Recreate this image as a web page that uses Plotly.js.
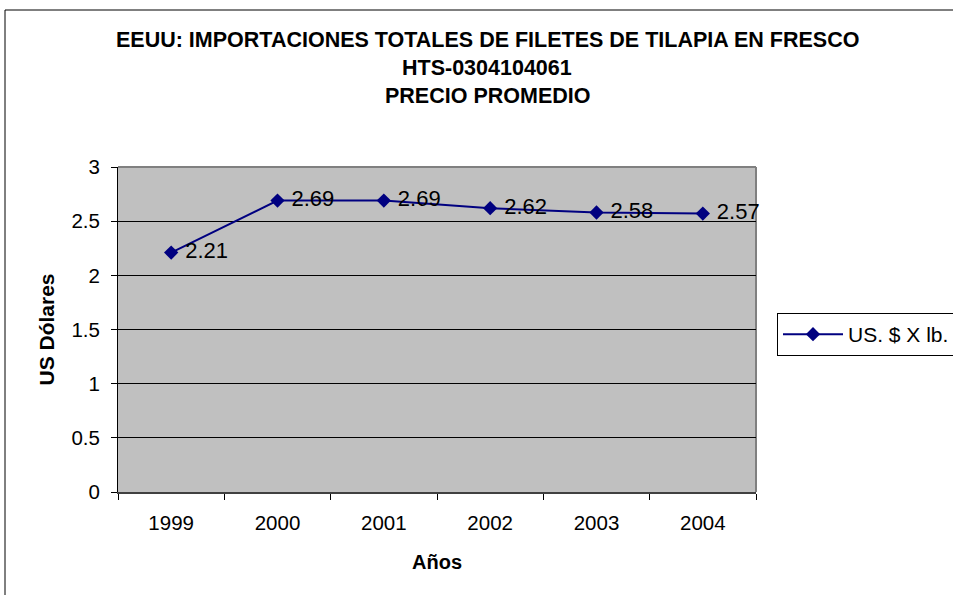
<!DOCTYPE html>
<html>
<head>
<meta charset="utf-8">
<script src="https://cdn.plot.ly/plotly-3.0.1.min.js"></script>
<style>
  html, body { margin: 0; padding: 0; background: #ffffff; }
  #chart { width: 953px; height: 595px; }
</style>
</head>
<body>
<div id="chart"></div>
<script>
const years = ['1999', '2000', '2001', '2002', '2003', '2004'];
const prices = [2.21, 2.69, 2.69, 2.62, 2.58, 2.57];
const priceLabels = ['2.21', '2.69', '2.69', '2.62', '2.58', '2.57'];
const seriesName = 'US. $ X lb.';
const titleLines = [
  'EEUU: IMPORTACIONES TOTALES DE FILETES DE TILAPIA EN FRESCO',
  'HTS-0304104061',
  'PRECIO PROMEDIO'
];
const yTickVals = [0, 0.5, 1, 1.5, 2, 2.5, 3];
const yTickText = ['0', '0.5', '1', '1.5', '2', '2.5', '3'];

const font = 'Arial, "Liberation Sans", sans-serif';
const W = 953, H = 595;
const L = 118, R = 197, T = 167, B = 103;
const pw = W - L - R, ph = H - T - B;
const px = x => (x - L) / pw;
const py = y => (H - B - y) / ph;

const trace = {
  type: 'scatter',
  mode: 'lines+markers+text',
  x: years,
  y: prices,
  text: priceLabels,
  texttemplate: ' %{text}',
  textposition: 'middle right',
  textfont: { family: font, size: 22, color: '#000000' },
  cliponaxis: false,
  name: seriesName,
  line: { color: '#000080', width: 2 },
  marker: { symbol: 'diamond', size: 11, color: '#000080' },
  hoverinfo: 'x+y'
};

const titleY = [40, 68, 96];
const annotations = titleLines.map((t, i) => ({
  text: '<b>' + t + '</b>',
  xref: 'paper', yref: 'paper',
  x: px(487), y: py(titleY[i]),
  xanchor: 'center', yanchor: 'middle',
  showarrow: false,
  font: { family: font, size: 21.5, color: '#000000' }
}));

const layout = {
  width: W, height: H,
  margin: { l: L, r: R, t: T, b: B, pad: 0, autoexpand: false },
  paper_bgcolor: '#ffffff',
  plot_bgcolor: '#c0c0c0',
  showlegend: true,
  legend: {
    x: px(777), y: py(313), xanchor: 'left', yanchor: 'top',
    bgcolor: '#ffffff', bordercolor: '#000000', borderwidth: 1,
    font: { family: font, size: 21, color: '#000000' },
    itemwidth: 60
  },
  xaxis: {
    type: 'category',
    range: [-0.5, 5.5],
    tickson: 'boundaries',
    ticks: 'outside', ticklen: 6, tickcolor: '#000000', tickwidth: 1,
    showline: true, linecolor: '#404040', linewidth: 2,
    showgrid: false, zeroline: false,
    tickfont: { family: font, size: 20.5, color: '#000000' },
    ticklabelstandoff: 11,
    title: { text: '<b>Años</b>', font: { family: font, size: 20, color: '#000000' }, standoff: 22 },
    automargin: false,
    fixedrange: true
  },
  yaxis: {
    range: [0, 3],
    tickvals: yTickVals, ticktext: yTickText,
    ticks: 'outside', ticklen: 6, tickcolor: '#000000', tickwidth: 1,
    showline: true, linecolor: '#000000', linewidth: 1,
    showgrid: true, gridcolor: '#000000', gridwidth: 1,
    zeroline: false,
    tickfont: { family: font, size: 20.5, color: '#000000' },
    ticklabelstandoff: 7,
    title: { text: '<b>US Dólares</b>', font: { family: font, size: 21, color: '#000000' }, standoff: 11 },
    automargin: false,
    fixedrange: true
  },
  annotations: annotations,
  shapes: [
    { type: 'line', xref: 'paper', yref: 'paper', x0: 0, x1: 1, y0: 1, y1: 1,
      line: { color: '#808080', width: 2 }, layer: 'below' },
    { type: 'line', xref: 'paper', yref: 'paper', x0: 1, x1: 1, y0: 0, y1: 1,
      line: { color: '#808080', width: 2 }, layer: 'below' },
    { type: 'line', xref: 'paper', yref: 'paper', x0: px(5), x1: px(5), y0: py(10), y1: py(600),
      line: { color: '#000000', width: 1 } },
    { type: 'line', xref: 'paper', yref: 'paper', x0: px(5), x1: px(960), y0: py(10), y1: py(10),
      line: { color: '#000000', width: 1 } }
  ]
};

Plotly.newPlot('chart', [trace], layout, { displayModeBar: false, staticPlot: true });
</script>
</body>
</html>
